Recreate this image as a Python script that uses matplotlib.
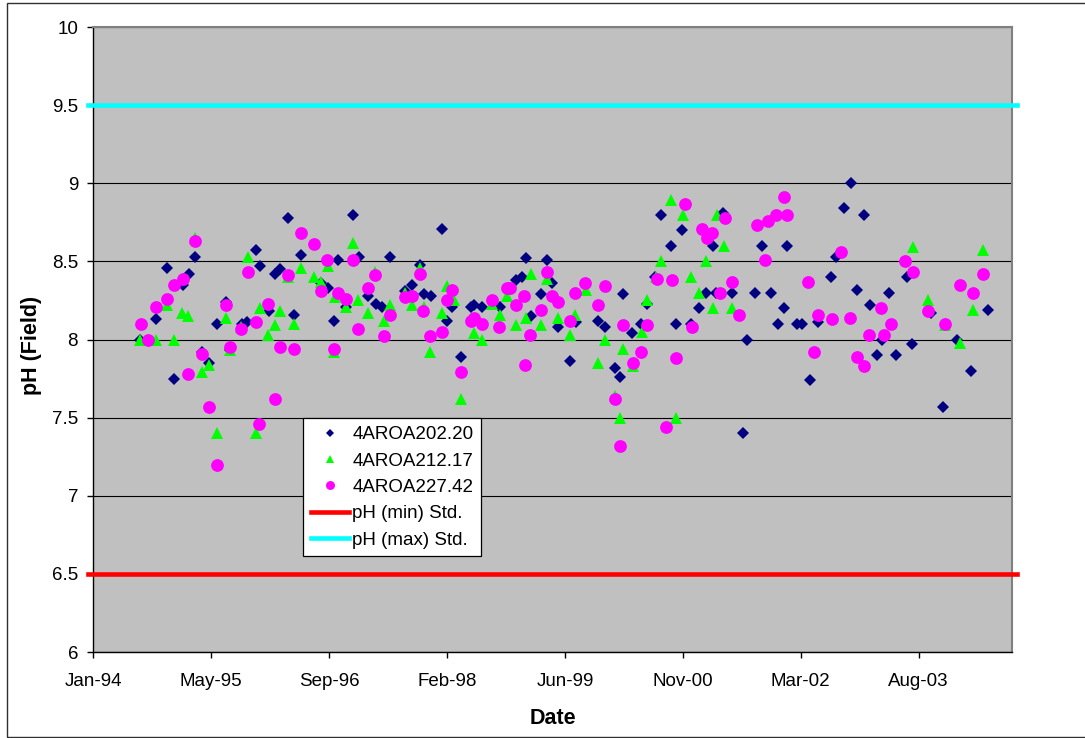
import numpy as np
import pandas as pd
import matplotlib
matplotlib.use('Agg')
import matplotlib.pyplot as plt
import matplotlib.dates as mdates
from matplotlib.patches import Rectangle
from matplotlib.ticker import FuncFormatter

plt.rcParams['font.family'] = ['Liberation Sans', 'DejaVu Sans']

# 4AROA202.20
fechas_202 = ['1994-07-18', '1994-09-23', '1994-11-10', '1994-12-11', '1995-01-18', '1995-02-11',
              '1995-03-08', '1995-04-06', '1995-05-07', '1995-06-10', '1995-07-19', '1995-08-04',
              '1995-09-22', '1995-10-13', '1995-11-23', '1995-12-08', '1996-01-16', '1996-02-11',
              '1996-03-02', '1996-04-06', '1996-05-03', '1996-06-01', '1996-08-23', '1996-09-24',
              '1996-10-18', '1996-11-05', '1996-12-06', '1997-01-08', '1997-02-01', '1997-03-13',
              '1997-04-13', '1997-05-11', '1997-06-11', '1997-08-15', '1997-09-13', '1997-10-17',
              '1997-11-04', '1997-12-02', '1998-01-18', '1998-02-07', '1998-03-04', '1998-04-10',
              '1998-05-21', '1998-06-04', '1998-07-09', '1998-09-21', '1998-11-28', '1998-12-26',
              '1999-01-09', '1999-02-02', '1999-03-14', '1999-04-11', '1999-05-02', '1999-05-27',
              '1999-07-17', '1999-08-09', '1999-11-13', '1999-12-11', '2000-01-23', '2000-02-12',
              '2000-02-26', '2000-04-05', '2000-05-11', '2000-06-08', '2000-07-10', '2000-08-06',
              '2000-09-15', '2000-10-06', '2000-11-03', '2000-12-09', '2001-01-13', '2001-02-10',
              '2001-03-13', '2001-03-25', '2001-04-25', '2001-06-01', '2001-07-20', '2001-08-03',
              '2001-09-07', '2001-10-06', '2001-11-14', '2001-12-15', '2002-01-10', '2002-01-23',
              '2002-03-06', '2002-03-27', '2002-04-29', '2002-06-02', '2002-07-28', '2002-08-18',
              '2002-09-21', '2002-10-18', '2002-11-14', '2002-12-12', '2003-01-08', '2003-02-07',
              '2003-03-01', '2003-03-29', '2003-04-29', '2003-06-13', '2003-07-06', '2003-09-22',
              '2003-11-15', '2004-01-13', '2004-03-13', '2004-05-22']
ph_202 = [8.00, 8.13, 8.46, 7.75, 8.35, 8.42,
          8.53, 7.92, 7.85, 8.10, 8.24, 7.93,
          8.10, 8.11, 8.57, 8.47, 8.18, 8.42,
          8.45, 8.78, 8.16, 8.54, 8.36, 8.33,
          8.12, 8.51, 8.21, 8.80, 8.53, 8.28,
          8.23, 8.21, 8.53, 8.31, 8.35, 8.48,
          8.29, 8.28, 8.71, 8.12, 8.21, 7.89,
          8.21, 8.22, 8.21, 8.21, 8.38, 8.40,
          8.52, 8.15, 8.29, 8.51, 8.36, 8.08,
          7.86, 8.11, 8.12, 8.08, 7.82, 7.76,
          8.29, 8.04, 8.10, 8.23, 8.40, 8.80,
          8.60, 8.10, 8.70, 8.10, 8.20, 8.30,
          8.60, 8.30, 8.81, 8.30, 7.40, 8.00,
          8.30, 8.60, 8.30, 8.10, 8.20, 8.60,
          8.10, 8.10, 7.74, 8.11, 8.40, 8.53,
          8.84, 9.00, 8.32, 8.80, 8.22, 7.90,
          8.00, 8.30, 7.90, 8.40, 7.97, 8.17,
          7.57, 8.00, 7.80, 8.19]

# 4AROA212.17
fechas_212 = ['1994-07-18', '1994-09-23', '1994-11-10', '1994-12-11', '1995-01-14', '1995-02-08',
              '1995-03-08', '1995-04-06', '1995-05-07', '1995-06-10', '1995-07-19', '1995-08-04',
              '1995-09-20', '1995-10-21', '1995-11-23', '1995-12-08', '1996-01-13', '1996-02-11',
              '1996-03-02', '1996-04-06', '1996-05-03', '1996-06-01', '1996-07-25', '1996-08-23',
              '1996-09-24', '1996-10-18', '1996-10-22', '1996-12-06', '1997-01-08', '1997-01-29',
              '1997-03-13', '1997-04-10', '1997-05-18', '1997-06-11', '1997-08-15', '1997-09-13',
              '1997-10-18', '1997-11-04', '1997-11-29', '1998-01-18', '1998-02-07', '1998-03-11',
              '1998-04-10', '1998-06-04', '1998-07-09', '1998-08-18', '1998-09-21', '1998-10-23',
              '1998-11-30', '1999-01-09', '1999-01-30', '1999-03-14', '1999-04-11', '1999-05-27',
              '1999-07-17', '1999-08-06', '1999-09-20', '1999-11-13', '1999-12-11', '2000-01-23',
              '2000-02-12', '2000-02-26', '2000-04-08', '2000-05-15', '2000-06-08', '2000-07-13',
              '2000-08-06', '2000-09-15', '2000-10-07', '2000-11-05', '2000-12-09', '2001-01-13',
              '2001-02-10', '2001-03-13', '2001-03-28', '2001-04-30', '2001-06-01', '2003-07-11',
              '2003-09-11', '2003-11-21', '2004-01-25', '2004-03-21', '2004-05-01']
ph_212 = [8.00, 8.00, 8.22, 8.00, 8.17, 8.15,
          8.65, 7.79, 7.84, 7.40, 8.14, 7.93,
          8.08, 8.53, 7.40, 8.20, 8.03, 8.09,
          8.18, 8.40, 8.10, 8.46, 8.40, 8.37,
          8.47, 7.92, 8.27, 8.21, 8.62, 8.25,
          8.17, 8.43, 8.12, 8.22, 8.30, 8.22,
          8.46, 8.21, 7.92, 8.17, 8.34, 8.25,
          7.62, 8.04, 8.00, 8.23, 8.16, 8.28,
          8.09, 8.14, 8.42, 8.09, 8.39, 8.14,
          8.03, 8.16, 8.32, 7.85, 8.00, 7.64,
          7.50, 7.94, 7.83, 8.05, 8.25, 8.40,
          8.50, 8.89, 7.50, 8.80, 8.40, 8.30,
          8.50, 8.20, 8.80, 8.60, 8.20, 8.59,
          8.25, 8.09, 7.98, 8.19, 8.57]

# 4AROA227.42
fechas_227 = ['1994-07-21', '1994-08-19', '1994-09-23', '1994-11-10', '1994-12-11', '1995-01-15',
              '1995-02-08', '1995-03-08', '1995-04-06', '1995-05-07', '1995-06-08', '1995-07-19',
              '1995-08-04', '1995-09-20', '1995-10-21', '1995-11-23', '1995-12-06', '1996-01-13',
              '1996-02-09', '1996-03-02', '1996-04-06', '1996-05-03', '1996-06-01', '1996-07-25',
              '1996-08-22', '1996-09-19', '1996-10-18', '1996-11-04', '1996-12-06', '1997-01-08',
              '1997-01-29', '1997-03-13', '1997-04-10', '1997-05-18', '1997-06-11', '1997-08-15',
              '1997-09-13', '1997-10-18', '1997-11-01', '1997-11-29', '1998-01-18', '1998-02-07',
              '1998-03-04', '1998-04-10', '1998-05-21', '1998-06-04', '1998-07-09', '1998-08-18',
              '1998-09-19', '1998-10-23', '1998-11-03', '1998-11-29', '1999-01-02', '1999-01-07',
              '1999-01-29', '1999-03-14', '1999-04-09', '1999-05-02', '1999-05-27', '1999-07-17',
              '1999-08-06', '1999-09-16', '1999-11-12', '1999-12-10', '2000-01-21', '2000-02-12',
              '2000-02-26', '2000-04-08', '2000-05-13', '2000-06-08', '2000-07-20', '2000-08-25',
              '2000-09-22', '2000-10-06', '2000-11-16', '2000-12-16', '2001-01-27', '2001-02-17',
              '2001-03-10', '2001-04-11', '2001-05-03', '2001-06-02', '2001-06-30', '2001-09-15',
              '2001-10-21', '2001-11-03', '2001-12-04', '2002-01-09', '2002-01-23', '2002-04-21',
              '2002-05-16', '2002-06-02', '2002-08-01', '2002-09-06', '2002-10-17', '2002-11-14',
              '2002-12-15', '2003-01-03', '2003-02-22', '2003-03-07', '2003-04-07', '2003-06-04',
              '2003-07-11', '2003-09-11', '2003-11-21', '2004-01-25', '2004-03-20', '2004-04-30']
ph_227 = [8.10, 8.00, 8.21, 8.26, 8.35, 8.39,
          7.78, 8.63, 7.91, 7.57, 7.20, 8.22,
          7.95, 8.07, 8.43, 8.11, 7.46, 8.23,
          7.62, 7.95, 8.41, 7.94, 8.68, 8.61,
          8.31, 8.51, 7.94, 8.30, 8.26, 8.51,
          8.07, 8.33, 8.41, 8.02, 8.16, 8.27,
          8.28, 8.42, 8.18, 8.02, 8.05, 8.25,
          8.32, 7.79, 8.12, 8.14, 8.10, 8.25,
          8.08, 8.33, 8.33, 8.22, 8.28, 7.84,
          8.03, 8.19, 8.43, 8.28, 8.24, 8.12,
          8.30, 8.36, 8.22, 8.34, 7.62, 7.32,
          8.09, 7.85, 7.92, 8.09, 8.39, 7.44,
          8.38, 7.88, 8.87, 8.08, 8.71, 8.65,
          8.68, 8.30, 8.78, 8.37, 8.16, 8.73,
          8.51, 8.76, 8.80, 8.91, 8.80, 8.37,
          7.92, 8.16, 8.13, 8.56, 8.14, 7.89,
          7.83, 8.03, 8.20, 8.03, 8.10, 8.50,
          8.43, 8.18, 8.10, 8.35, 8.30, 8.42]

# Estandares de pH
ph_min_std = 6.5
ph_max_std = 9.5

# Eje de fechas (como en Excel: unidad mayor de 500 dias)
fecha_ini = '1994-01-01'
fecha_fin = '2004-09-01'
paso_dias = 500

x0 = mdates.date2num(pd.Timestamp(fecha_ini))
x1 = mdates.date2num(pd.Timestamp(fecha_fin))

fig = plt.figure(figsize=(10.85, 7.38), dpi=100)
ax = fig.add_axes([0.086, 0.1165, 0.8467, 0.8469])
ax.set_facecolor('#C0C0C0')

series = [
    (fechas_202, ph_202, 'D', 6.2, '#000080', '4AROA202.20'),
    (fechas_212, ph_212, '^', 8.8, '#00FF00', '4AROA212.17'),
    (fechas_227, ph_227, 'o', 9.2, '#FF00FF', '4AROA227.42'),
]
for fechas, ph, marca, tam, color, nombre in series:
    ax.plot(pd.to_datetime(fechas), ph, linestyle='none', marker=marca, markersize=tam,
            color=color, markeredgewidth=0, label=nombre, zorder=3)

ax.axhline(ph_min_std, xmin=-0.006, xmax=1.006, color='#FF0000', lw=3.3,
           clip_on=False, label='pH (min) Std.', zorder=4)
ax.axhline(ph_max_std, xmin=-0.006, xmax=1.006, color='#00FFFF', lw=3.3,
           clip_on=False, label='pH (max) Std.', zorder=4)

ax.set_xlim(x0, x1)
ax.set_ylim(6, 10)
ax.set_xticks(np.arange(x0, x1, paso_dias))
ax.xaxis.set_major_formatter(mdates.DateFormatter('%b-%y'))
ax.set_yticks(np.arange(6, 10.01, 0.5))
ax.yaxis.set_major_formatter(FuncFormatter(lambda v, p: '%g' % v))

ax.yaxis.grid(True, color='black', lw=0.8)
ax.set_axisbelow(True)

for lado in ['top', 'right']:
    ax.spines[lado].set_color('#808080')
    ax.spines[lado].set_linewidth(1.5)
for lado in ['left', 'bottom']:
    ax.spines[lado].set_color('black')
    ax.spines[lado].set_linewidth(1)

ax.tick_params(axis='both', direction='out', length=4.5, width=1, labelsize=13.5, colors='black')
ax.tick_params(axis='x', pad=10.5)
ax.tick_params(axis='y', pad=6.5)

ax.set_xlabel('Date', fontsize=15.5, fontweight='bold')
ax.set_ylabel('pH (Field)', fontsize=15.5, fontweight='bold')
ax.xaxis.set_label_coords(0.5, -0.0896)
ax.yaxis.set_label_coords(-0.056, 0.491)

leg = ax.legend(loc='upper left', bbox_to_anchor=(0.2286, 0.3739), fontsize=13.5,
                frameon=True, fancybox=False, framealpha=1, edgecolor='black',
                borderaxespad=0, borderpad=0.42, labelspacing=0.49, handlelength=2.0,
                handletextpad=0.2, markerscale=0.7)
leg.get_frame().set_linewidth(0.9)

# borde del area del grafico
fig.add_artist(Rectangle((7 / 1085, 1 / 738), 1.1, 734 / 738, transform=fig.transFigure,
                         fill=False, edgecolor='#303030', lw=1))

plt.savefig('out.png', dpi=100)
